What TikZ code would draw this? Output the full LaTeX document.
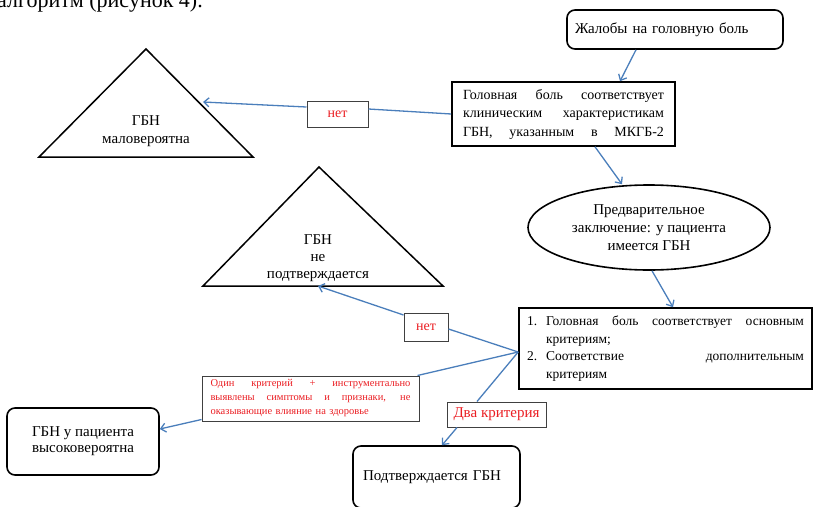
\documentclass[tikz,border=0pt]{standalone}
\usepackage{fontspec}
\setmainfont{Liberation Serif}
\usetikzlibrary{arrows.meta,shapes.geometric,calc}
\definecolor{cblue}{RGB}{74,126,187}
\definecolor{lblred}{RGB}{235,30,35}
\newcommand\jline[2]{\makebox[#1][s]{\spaceskip=.25em plus 1fil\relax #2}}
\tikzset{
 conn/.style={draw=cblue, line width=1.3pt},
 arr/.style={conn, -{Straight Barb[length=5pt,width=9pt]}},
 box/.style={draw, line width=1.6pt, inner sep=0pt},
 rbox/.style={box, rounded corners=8pt},
 lbl/.style={draw=black!75, line width=1pt, fill=white, inner sep=0pt, text=lblred},
 txt/.style={font=\fontsize{15}{18}\selectfont},
 tri/.style={draw, line width=1.5pt, line join=miter},
}
\begin{document}
\begin{tikzpicture}[x=1pt,y=-1pt]
\useasboundingbox (0,0) rectangle (813,506);
\clip (0,0) rectangle (813,506);

\node[anchor=base west, inner sep=0pt, font=\fontsize{22}{24}\selectfont] (head) at (-3,8) {алгоритм (рисунок 4).};

% triangles
\draw[tri] (146,49) -- (39,157) -- (253,157) -- cycle;
\node[txt, align=center] (t1txt) at (146,131) {ГБН\\маловероятна};
\coordinate (t1hit) at (203,102);

\draw[tri] (319,167) -- (203,286) -- (443,286) -- cycle;
\node[font=\fontsize{15}{17}\selectfont, align=center] (t2txt) at (318,258) {ГБН\\не\\подтверждается};
\coordinate (t2hit) at (318,286);

% boxes
\node[rbox, minimum width=216pt, minimum height=39pt, text width=200pt, align=left, txt] (b1) at (675,29.5) {Жалобы на головную боль};

\node[box, minimum width=223pt, minimum height=64pt, text width=201pt, align=left, font=\fontsize{14}{18.5}\selectfont] (b2) at (563.5,114)
 {\jline{201pt}{Головная боль соответствует}\\\jline{201pt}{клиническим характеристикам}\\\jline{201pt}{ГБН, указанным в МКГБ-2}};

\node[draw, ellipse, line width=1.6pt, minimum width=242pt, minimum height=85pt, inner sep=0pt, align=center, txt] (el) at (649,227.5)
 {Предварительное\\заключение: у пациента\\имеется ГБН};

\node[box, minimum width=293pt, minimum height=81pt, text width=277pt, align=left, font=\fontsize{13.5}{17.7}\selectfont] (b3) at (665.5,348.5)
 {\makebox[19pt][l]{1.}\jline{258pt}{Головная боль соответствует основным}\\\hspace*{19pt}критериям;\\\makebox[19pt][l]{2.}\jline{258pt}{Соответствие дополнительным}\\\hspace*{19pt}критериям};

\node[rbox, minimum width=152pt, minimum height=67pt, align=center, font=\fontsize{15}{16}\selectfont] (b4) at (83,441.5) {ГБН у пациента\\высоковероятна};

\node[rbox, minimum width=167pt, minimum height=62pt, text width=147pt, align=left, txt] (b5) at (436.5,477) {Подтверждается ГБН};

% labels
\node[lbl, minimum width=61pt, minimum height=26pt, font=\fontsize{14}{16}\selectfont] (no1) at (337.5,114) {нет};
\node[lbl, minimum width=44pt, minimum height=28pt, font=\fontsize{14}{16}\selectfont] (no2) at (426,327) {нет};
\node[lbl, minimum width=217pt, minimum height=45pt, text width=200pt, align=left, font=\fontsize{10.5}{14}\selectfont] (rd) at (310.5,398.5)
 {\jline{200pt}{Один критерий + инструментально}\\\jline{200pt}{выявлены симптомы и признаки, не}\\оказывающие влияние на здоровье};
\node[lbl, minimum width=99pt, minimum height=25pt, font=\fontsize{15}{17}\selectfont] (dva) at (496.5,414.5) {Два критерия};

% connectors
\draw[arr] ([xshift=-39pt]b1.south) -- ([xshift=56.5pt]b2.north);
\draw[conn] (b2.west) -- ([yshift=5pt]no1.east);
\draw[arr] ([yshift=7pt]no1.west) -- (t1hit);
\draw[arr] ([xshift=31.5pt]b2.south) -- ([xshift=-27pt]el.north);
\draw[arr] ([xshift=3pt]el.south) -- ([xshift=7.5pt]b3.north);
\coordinate (hub) at ([yshift=-3.5pt]b3.west);
\draw[conn] (hub) -- ([yshift=-2pt]no2.east);
\draw[arr] ([yshift=12pt]no2.west) -- (t2hit);
\draw[conn] (hub) -- ([xshift=-2pt]rd.north east);
\draw[arr] ([yshift=2pt]rd.south west) -- ([yshift=12.5pt]b4.east);
\draw[conn] (hub) -- ([xshift=-19.5pt]dva.north);
\draw[arr] ([xshift=-39.5pt]dva.south) -- ([xshift=5.5pt]b5.north);
\end{tikzpicture}
\end{document}
